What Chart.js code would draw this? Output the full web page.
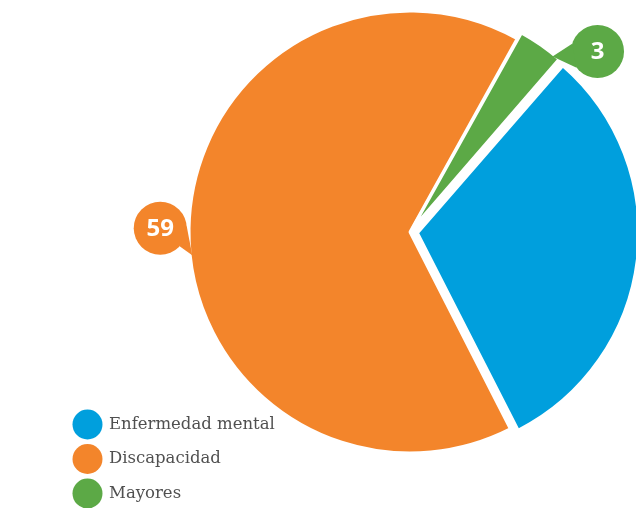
<!DOCTYPE html>
<html>
<head>
<meta charset="utf-8">
<script src="https://cdn.jsdelivr.net/npm/chart.js@4"></script>
<style>
  html, body { margin: 0; padding: 0; background: #fff; overflow: hidden; }
  #wrap { width: 636px; height: 508px; }
</style>
</head>
<body>
<div id="wrap"><canvas id="pie" width="636" height="508"></canvas></div>
<script>
// Datos del gráfico
const categorias = ['Enfermedad mental', 'Discapacidad', 'Mayores'];
const valores = [28, 59, 3];
const colores = ['#009fdd', '#f3852b', '#5ca946'];
const mostrarEtiqueta = [false, true, true];

// Globos con el valor (posición relativa al borde de cada porción)
const globos = [
  null,
  { frac: 0.47, dx: -32, dy: -27, cola: [0.8, -0.05] },
  { frac: 0.85, dx: 45, dy: -5, cola: [0.55, -0.4] }
];

const globoPlugin = {
  id: 'globos',
  afterDatasetsDraw(chart) {
    const ctx = chart.ctx;
    const meta = chart.getDatasetMeta(0);
    meta.data.forEach((arc, i) => {
      if (!mostrarEtiqueta[i] || !globos[i]) return;
      const g = globos[i];
      const p = arc.getProps(['x', 'y', 'startAngle', 'endAngle', 'outerRadius', 'circumference'], true);
      const a = p.startAngle + (p.endAngle - p.startAngle) * g.frac;
      // mismo desplazamiento que aplica Chart.js al dibujar el arco
      const off = (arc.options.offset || 0) / 4;
      const fix = 1 - Math.sin(Math.min(Math.PI, p.circumference || 0));
      const shift = off + off * fix;
      const mid = (p.startAngle + p.endAngle) / 2;
      const cx = p.x + Math.cos(mid) * shift;
      const cy = p.y + Math.sin(mid) * shift;
      const tx = cx + Math.cos(a) * (p.outerRadius - 2);
      const ty = cy + Math.sin(a) * (p.outerRadius - 2);
      const bx = tx + g.dx, by = ty + g.dy, r = 26.5;
      const ang = Math.atan2(ty - by, tx - bx);
      ctx.save();
      ctx.fillStyle = colores[i];
      ctx.beginPath();
      ctx.arc(bx, by, r, 0, Math.PI * 2);
      ctx.fill();
      // cola del globo
      ctx.beginPath();
      ctx.moveTo(bx + Math.cos(ang - g.cola[0]) * r, by + Math.sin(ang - g.cola[0]) * r);
      ctx.lineTo(tx, ty);
      ctx.lineTo(bx + Math.cos(ang - g.cola[1]) * r, by + Math.sin(ang - g.cola[1]) * r);
      ctx.closePath();
      ctx.fill();
      ctx.fillStyle = '#ffffff';
      ctx.font = 'bold 24px "Open Sans", Roboto, sans-serif';
      ctx.textAlign = 'center';
      ctx.textBaseline = 'middle';
      ctx.fillText(String(valores[i]), bx, by + 1);
      ctx.restore();
    });
  }
};

const leyendaPlugin = {
  id: 'leyenda',
  afterDraw(chart) {
    const ctx = chart.ctx;
    ctx.save();
    categorias.forEach((cat, i) => {
      const y = 424.5 + i * 34.5;
      ctx.fillStyle = colores[i];
      ctx.beginPath();
      ctx.arc(87.5, y, 15, 0, Math.PI * 2);
      ctx.fill();
      ctx.fillStyle = '#505050';
      ctx.font = '16.5px "DejaVu Serif", serif';
      ctx.textAlign = 'left';
      ctx.textBaseline = 'middle';
      ctx.fillText(cat, 109, y);
    });
    ctx.restore();
  }
};

const pieCtx = document.getElementById('pie').getContext('2d');
const pieChart = new Chart(pieCtx, {
  type: 'pie',
  data: {
    labels: categorias,
    datasets: [{
      data: valores,
      backgroundColor: colores,
      borderColor: '#ffffff',
      borderWidth: 3,
      offset: [30, 0, 16],
      hoverOffset: 0
    }]
  },
  options: {
    responsive: false,
    animation: false,
    rotation: 41,
    radius: 221,
    layout: { padding: { left: 200, right: 16, top: 0, bottom: 44 } },
    plugins: {
      legend: { display: false },
      tooltip: { enabled: false }
    }
  },
  plugins: [globoPlugin, leyendaPlugin]
});
</script>
</body>
</html>
